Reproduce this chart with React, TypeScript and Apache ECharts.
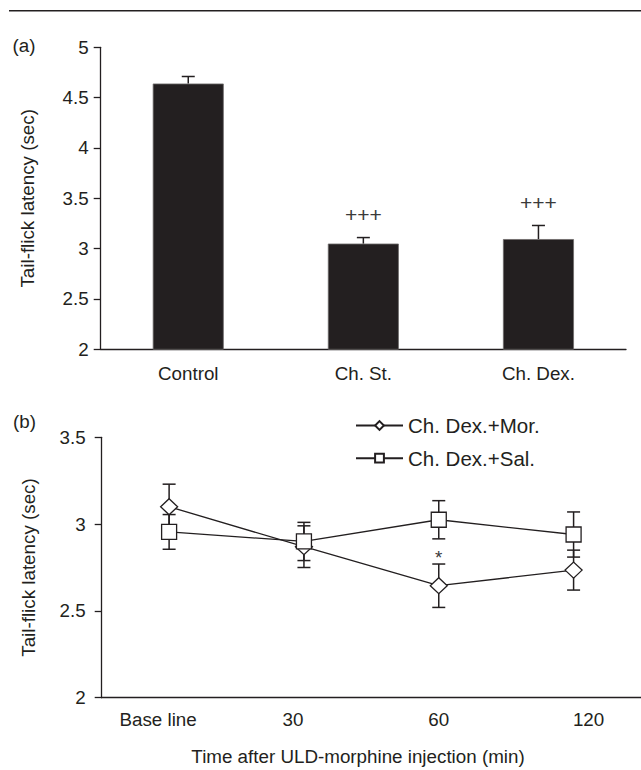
import React, { useEffect, useRef } from "react";
import * as echarts from "echarts";

// ---- Panel (a) data ----
const groups = ["Control", "Ch. St.", "Ch. Dex."];
const latency = [4.64, 3.05, 3.095];
const latencySem = [0.07, 0.06, 0.135];
const groupMarks = ["", "+++", "+++"];

// ---- Panel (b) data ----
const timePoints = ["Base line", "30", "60", "120"];
const seriesNames = ["Ch. Dex.+Mor.", "Ch. Dex.+Sal."];
const morMean = [3.1, 2.87, 2.645, 2.735];
const morSem = [0.13, 0.12, 0.125, 0.115];
const morMarks = ["", "", "*", ""];
const salMean = [2.955, 2.9, 3.025, 2.94];
const salSem = [0.1, 0.11, 0.11, 0.13];

// layout: horizontal shift of each time label relative to its point (px)
const TIME_LABEL_SHIFT = [-11, -11, 0, 15];

const INK = "#231f20";
const FONT = "'Liberation Sans', Arial, Helvetica, sans-serif";
const FS = 18.8;

export default function App() {
  const ref = useRef<HTMLDivElement>(null);

  useEffect(() => {
    document.body.style.margin = "0";
    if (!ref.current) return;
    const chart = echarts.init(ref.current, null, { renderer: "svg" });

    const txt = { color: INK, fontSize: FS, fontFamily: FONT };
    const axisLine = { show: true, lineStyle: { color: INK, width: 1.3 } };

    const barErr = (params: any, api: any) => {
      const i = params.dataIndex;
      const top = api.coord([i, latency[i]]);
      const cap = api.coord([i, latency[i] + latencySem[i]]);
      const hw = 6.5;
      const children: any[] = [
        { type: "line", shape: { x1: top[0], y1: top[1], x2: cap[0], y2: cap[1] }, style: { stroke: INK, lineWidth: 1.5 } },
        { type: "line", shape: { x1: cap[0] - hw, y1: cap[1], x2: cap[0] + hw, y2: cap[1] }, style: { stroke: INK, lineWidth: 1.5 } },
      ];
      if (groupMarks[i]) {
        children.push({
          type: "text",
          x: cap[0],
          y: cap[1] - 23,
          style: { text: groupMarks[i], fill: "#3a3a3a", fontSize: 21, fontFamily: FONT, align: "center", verticalAlign: "middle" },
        });
      }
      return { type: "group", children };
    };

    const lineErr = (mean: number[], sem: number[], marks: string[]) => (params: any, api: any) => {
      const i = params.dataIndex;
      const hi = api.coord([i, mean[i] + sem[i]]);
      const lo = api.coord([i, mean[i] - sem[i]]);
      const hw = 6.5;
      const st = { stroke: INK, lineWidth: 1.5 };
      const children: any[] = [
        { type: "line", shape: { x1: hi[0], y1: hi[1], x2: lo[0], y2: lo[1] }, style: st },
        { type: "line", shape: { x1: hi[0] - hw, y1: hi[1], x2: hi[0] + hw, y2: hi[1] }, style: st },
        { type: "line", shape: { x1: lo[0] - hw, y1: lo[1], x2: lo[0] + hw, y2: lo[1] }, style: st },
      ];
      if (marks[i]) {
        children.push({
          type: "text",
          x: hi[0],
          y: hi[1] - 6.5,
          style: { text: marks[i], fill: "#3a3a3a", fontSize: FS, fontFamily: FONT, align: "center", verticalAlign: "middle" },
        });
      }
      return { type: "group", children };
    };

    const rich: any = {};
    TIME_LABEL_SHIFT.forEach((s, i) => {
      rich["t" + i] = {
        color: INK,
        fontSize: FS,
        fontFamily: FONT,
        padding: s < 0 ? [0, -2 * s, 0, 0] : [0, 0, 0, 2 * s],
      };
    });

    const option: any = {
      animation: false,
      backgroundColor: "#ffffff",
      grid: [
        { left: 100.7, top: 47.3, width: 525.3, height: 302 },
        { left: 101.7, top: 437.3, width: 542, height: 260.4 },
      ],
      legend: {
        data: seriesNames,
        orient: "vertical",
        left: 350,
        top: 410,
        itemWidth: 47,
        itemHeight: 11,
        itemGap: 11.7,
        selectedMode: false,
        textStyle: { color: INK, fontSize: 20.5, fontFamily: FONT, lineHeight: 20 },
      },
      xAxis: [
        {
          type: "category",
          gridIndex: 0,
          data: groups,
          axisLine,
          axisTick: { show: false },
          axisLabel: { ...txt, margin: 15, interval: 0 },
        },
        {
          type: "category",
          gridIndex: 1,
          data: timePoints,
          axisLine,
          axisTick: { show: false },
          axisLabel: {
            ...txt,
            margin: 12,
            interval: 0,
            hideOverlap: false,
            formatter: (v: string, i: number) => `{t${i}|${v}}`,
            rich,
          },
        },
      ],
      yAxis: [
        {
          type: "value",
          gridIndex: 0,
          min: 2,
          max: 5,
          interval: 0.5,
          name: "Tail-flick latency (sec)",
          nameLocation: "middle",
          nameGap: 64,
          nameTextStyle: txt,
          axisLine,
          axisTick: { show: true, length: 7, lineStyle: { color: INK, width: 1.3 } },
          axisLabel: { ...txt, margin: 12 },
          splitLine: { show: false },
        },
        {
          type: "value",
          gridIndex: 1,
          min: 2,
          max: 3.5,
          interval: 0.5,
          name: "Tail-flick latency (sec)",
          nameLocation: "middle",
          nameGap: 64,
          nameTextStyle: txt,
          axisLine,
          axisTick: { show: true, length: 7, lineStyle: { color: INK, width: 1.3 } },
          axisLabel: { ...txt, margin: 16 },
          splitLine: { show: false },
        },
      ],
      series: [
        {
          type: "bar",
          xAxisIndex: 0,
          yAxisIndex: 0,
          data: latency,
          barWidth: 71,
          clip: true,
          silent: true,
          itemStyle: { color: INK, borderColor: "#6d6a6a", borderWidth: 0.8 },
        },
        {
          type: "custom",
          xAxisIndex: 0,
          yAxisIndex: 0,
          z: 3,
          silent: true,
          renderItem: barErr,
          data: latency.map((v, i) => [i, v + latencySem[i]]),
          encode: { x: 0, y: 1 },
        },
        {
          type: "custom",
          xAxisIndex: 1,
          yAxisIndex: 1,
          z: 1,
          silent: true,
          renderItem: lineErr(morMean, morSem, morMarks),
          data: morMean.map((v, i) => [i, v]),
          encode: { x: 0, y: 1 },
        },
        {
          type: "custom",
          xAxisIndex: 1,
          yAxisIndex: 1,
          z: 1,
          silent: true,
          renderItem: lineErr(salMean, salSem, ["", "", "", ""]),
          data: salMean.map((v, i) => [i, v]),
          encode: { x: 0, y: 1 },
        },
        {
          name: seriesNames[0],
          type: "line",
          xAxisIndex: 1,
          yAxisIndex: 1,
          z: 3,
          data: morMean,
          symbol: "diamond",
          symbolSize: [17, 16],
          silent: true,
          lineStyle: { color: INK, width: 1.3 },
          itemStyle: { color: "#ffffff", borderColor: INK, borderWidth: 1.3 },
        },
        {
          name: seriesNames[1],
          type: "line",
          xAxisIndex: 1,
          yAxisIndex: 1,
          z: 4,
          data: salMean,
          symbol: "rect",
          symbolSize: [15, 15],
          silent: true,
          lineStyle: { color: INK, width: 1.3 },
          itemStyle: { color: "#ffffff", borderColor: INK, borderWidth: 1.3 },
        },
      ],
      graphic: [
        {
          type: "line",
          shape: { x1: 9, y1: 10.7, x2: 641, y2: 10.7 },
          style: { stroke: INK, lineWidth: 1.5 },
        },
        {
          type: "text",
          x: 24,
          y: 45,
          style: { text: "(a)", fill: INK, fontSize: FS, fontFamily: FONT, align: "center", verticalAlign: "middle" },
        },
        {
          type: "text",
          x: 24.5,
          y: 421,
          style: { text: "(b)", fill: INK, fontSize: FS, fontFamily: FONT, align: "center", verticalAlign: "middle" },
        },
        {
          type: "text",
          x: 358,
          y: 756,
          style: {
            text: "Time after ULD-morphine injection (min)",
            fill: INK,
            fontSize: FS,
            fontFamily: FONT,
            align: "center",
            verticalAlign: "middle",
          },
        },
      ],
    };

    chart.setOption(option);
    return () => chart.dispose();
  }, []);

  return <div ref={ref} style={{ width: 641, height: 770 }} />;
}
